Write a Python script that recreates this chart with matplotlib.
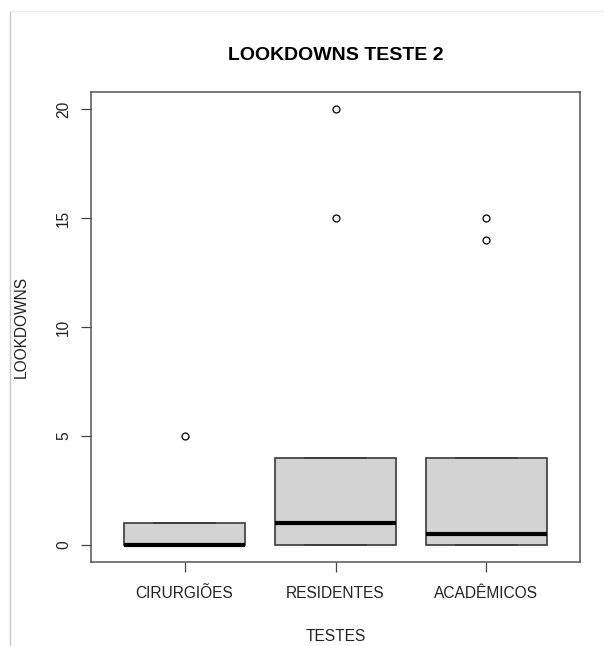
import matplotlib
matplotlib.use("Agg")
import matplotlib.pyplot as plt
from matplotlib.lines import Line2D

plt.rcParams['font.family'] = ['Liberation Sans', 'DejaVu Sans']

# Resumo dos boxplots por grupo
grupos  = ['CIRURGIÕES', 'RESIDENTES', 'ACADÊMICOS']
q1      = [0, 0, 0]
mediana = [0, 1, 0.5]
q3      = [1, 4, 4]
whis_lo = [0, 0, 0]
whis_hi = [1, 4, 4]
outliers = [[5], [15, 20], [14, 15]]

stats = []
for i, g in enumerate(grupos):
    stats.append(dict(label=g, q1=q1[i], med=mediana[i], q3=q3[i],
                      whislo=whis_lo[i], whishi=whis_hi[i], fliers=outliers[i]))

fig = plt.figure(figsize=(6.04, 6.46), dpi=100)
fig.patch.set_facecolor('white')
ax = fig.add_axes([0.1507, 0.1300, 0.8096, 0.7276])

ax.bxp(stats, positions=[1, 2, 3], widths=0.8, patch_artist=True,
       boxprops=dict(facecolor='#d3d3d3', edgecolor='#3a3a3a', linewidth=1.2),
       medianprops=dict(color='black', linewidth=3, solid_capstyle='butt'),
       whiskerprops=dict(color='#3a3a3a', linewidth=1.0, linestyle='--'),
       capprops=dict(color='#3a3a3a', linewidth=1.2),
       flierprops=dict(marker='o', markerfacecolor='none', markeredgecolor='black',
                       markersize=5, markeredgewidth=0.9))

ax.set_xlim(0.38, 3.62)
ax.set_ylim(-0.8, 20.8)
ax.set_yticks([0, 5, 10, 15, 20])
ax.set_xticks([1, 2, 3])
ax.set_xticklabels(grupos)
for lbl in ax.get_yticklabels():
    lbl.set_rotation(90)
    lbl.set_va('center')

ax.tick_params(axis='both', length=7.2, width=0.9, color='#444444',
               labelsize=11.2, labelcolor='#222222', pad=7)
ax.tick_params(axis='x', pad=10)
for s in ax.spines.values():
    s.set_color('#555555')
    s.set_linewidth(1.1)

ax.set_title('LOOKDOWNS TESTE 2', fontsize=14, fontweight='bold', pad=23)
ax.set_xlabel('TESTES', fontsize=11.2, color='#222222', labelpad=20)
ax.set_ylabel('LOOKDOWNS', fontsize=11.2, color='#222222', labelpad=20)

# bordas finas da janela
fig.add_artist(Line2D([10/604, 10/604], [0, 1 - 11/646], color='#c8c8c8', lw=1.0))
fig.add_artist(Line2D([10/604, 1], [1 - 11/646, 1 - 11/646], color='#ececec', lw=1.0))

fig.savefig('out.png', dpi=100, facecolor='white')
